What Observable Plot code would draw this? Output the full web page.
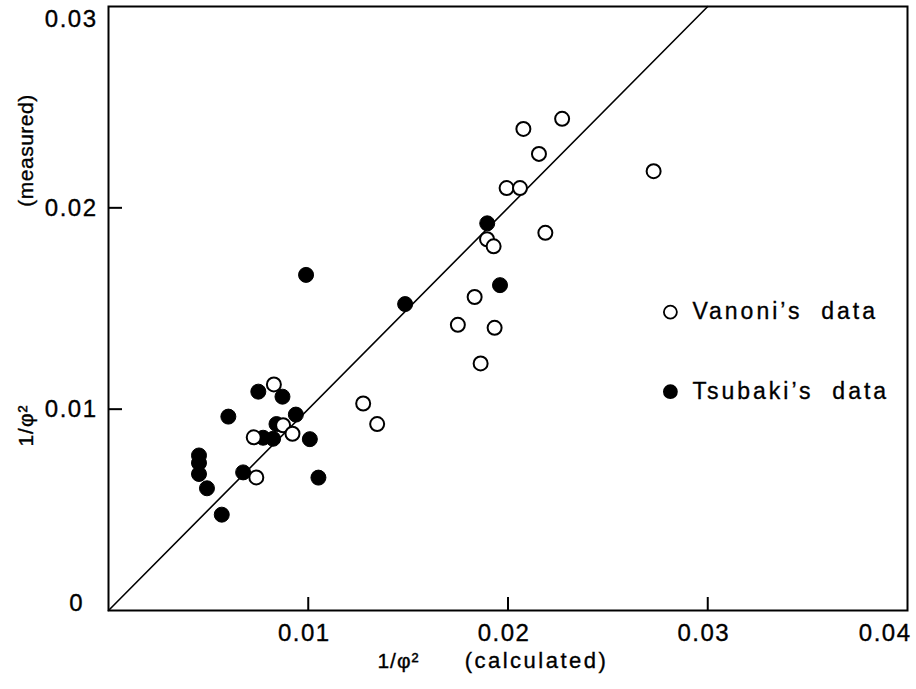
<!DOCTYPE html>
<html>
<head>
<meta charset="utf-8">
<script src="https://cdn.jsdelivr.net/npm/d3@7"></script>
<script src="https://cdn.jsdelivr.net/npm/@observablehq/plot@0.6"></script>
<style>
  html, body { margin: 0; padding: 0; background: #fff; }
  #chart svg { display: block; font-family: "Liberation Sans", Arial, sans-serif; }
  #chart svg text { white-space: pre; }
</style>
</head>
<body>
<div id="chart"></div>
<script>
// Vanoni's data (open circles): [calculated, measured]
const vanoniX = [0.00828, 0.00874, 0.00921, 0.00727, 0.00740, 0.01275, 0.01345, 0.02077, 0.02271, 0.02155,
                 0.02729, 0.01993, 0.02060, 0.01895, 0.01928, 0.02187, 0.01833, 0.01749, 0.01933, 0.01863];
const vanoniY = [0.01123, 0.00920, 0.00878, 0.00860, 0.00661, 0.01028, 0.00926, 0.02392, 0.02442, 0.02268,
                 0.02182, 0.02098, 0.02098, 0.01844, 0.01809, 0.01876, 0.01557, 0.01419, 0.01404, 0.01227];
// Tsubaki's data (filled circles)
const tsubakiX = [0.00750, 0.00871, 0.00600, 0.00938, 0.00841, 0.00774, 0.00824, 0.01008, 0.00453, 0.00453,
                  0.00453, 0.00493, 0.00674, 0.01051, 0.00567, 0.00989, 0.01485, 0.01896, 0.01960];
const tsubakiY = [0.01087, 0.01062, 0.00963, 0.00973, 0.00926, 0.00858, 0.00853, 0.00851, 0.00770, 0.00733,
                  0.00678, 0.00607, 0.00686, 0.00660, 0.00476, 0.01667, 0.01522, 0.01923, 0.01616];
// Line of perfect agreement
const lineX = [0, 0.03];
const lineY = [0, 0.03];
// Axis ticks
const xTickLabels = [0.01, 0.02, 0.03];
const xLastLabel = [0.04];
const xTickMarks = [0.01, 0.02, 0.03];
const yTickLabels = [0.01, 0.02];
const yTopLabel = [0.03];
const yZeroLabel = [0];
const yTickMarks = [0.01, 0.02];
// Legend
const legendNames = ["Vanoni\u2019s  data", "Tsubaki\u2019s  data"];
const legendX = [0.02813, 0.02813];
const legendY = [0.01482, 0.01087];
// Axis titles
const yTitleParts = ["(measured)", "1/\u03c6\u00b2"];
const xTitleParts = ["1/\u03c6\u00b2", "(calculated)"];

const vanoni = vanoniX.map((x, i) => ({x, y: vanoniY[i]}));
const tsubaki = tsubakiX.map((x, i) => ({x, y: tsubakiY[i]}));
const fitLine = lineX.map((x, i) => ({x, y: lineY[i]}));
const legend = legendNames.map((name, i) => ({name, x: legendX[i], y: legendY[i], filled: i === 1}));

const W = 916, H = 689, mL = 108, mR = 9, mT = 6, mB = 79;
const plotW = W - mL - mR, plotH = H - mT - mB;
const fmt = d3.format(".2f");
const tickFont = 24;

const chart = Plot.plot({
  width: W,
  height: H,
  marginLeft: mL,
  marginRight: mR,
  marginTop: mT,
  marginBottom: mB,
  style: {fontFamily: "Liberation Sans, Arial, sans-serif", fontSize: "24px", color: "#000", background: "#fff"},
  x: {domain: [0, 0.04]},
  y: {domain: [0, 0.03]},
  marks: [
    Plot.axisX(xTickLabels, {tickSize: 0, tickPadding: 13, dx: -4, fontSize: tickFont, label: null, tickFormat: fmt}),
    Plot.text(xLastLabel, {x: d => d, frameAnchor: "bottom", lineAnchor: "top", dy: 13, dx: 4, textAnchor: "end",
      text: d => fmt(d), fontSize: tickFont, fill: "#000"}),
    Plot.axisY(yTickLabels, {tickSize: 0, tickPadding: 11, fontSize: tickFont, label: null, tickFormat: fmt}),
    Plot.text(yTopLabel, {y: d => d, frameAnchor: "left", dx: -11, dy: 13, textAnchor: "end",
      text: d => fmt(d), fontSize: tickFont, fill: "#000"}),
    Plot.text(yZeroLabel, {y: d => d, frameAnchor: "left", dx: -26, dy: -7, textAnchor: "end",
      text: d => "0", fontSize: tickFont, fill: "#000"}),
    Plot.tickX(xTickMarks, {x: d => d, insetTop: plotH - 13, stroke: "#000", strokeWidth: 2}),
    Plot.tickY(yTickMarks, {y: d => d, insetRight: plotW - 14, stroke: "#000", strokeWidth: 2}),
    Plot.frame({stroke: "#000", strokeWidth: 2}),
    Plot.line(fitLine, {x: "x", y: "y", stroke: "#000", strokeWidth: 1.6}),
    Plot.dot(tsubaki, {x: "x", y: "y", r: 7.5, fill: "#000", stroke: "#000", strokeWidth: 1}),
    Plot.dot(vanoni, {x: "x", y: "y", r: 7, fill: "#fff", stroke: "#000", strokeWidth: 2}),
    Plot.dot(legend, {x: "x", y: "y", r: 6.5, fill: d => d.filled ? "#000" : "#fff", stroke: "#000", strokeWidth: 1.8}),
    Plot.text(legend, {x: "x", y: "y", text: "name", dx: 22, textAnchor: "start", fontSize: 23, fill: "#000"}),
    // axis titles
    Plot.text([yTitleParts[0]], {frameAnchor: "top-left", dx: -90, dy: 144, rotate: -90, textAnchor: "middle",
      text: d => d, fontSize: 21, fill: "#000"}),
    Plot.text([yTitleParts[1]], {frameAnchor: "top-left", dx: -90, dy: 419, rotate: -90, textAnchor: "middle",
      text: d => d, fontSize: 21, fill: "#000"}),
    Plot.text([xTitleParts[0]], {frameAnchor: "bottom-left", dx: 290, dy: 57, textAnchor: "middle",
      text: d => d, fontSize: 21, fill: "#000"}),
    Plot.text([xTitleParts[1]], {frameAnchor: "bottom-left", dx: 428, dy: 57, textAnchor: "middle",
      text: d => d, fontSize: 22, fill: "#000"})
  ]
});

// letter spacing and slightly heavier lettering, like the hand-lettered original
const spacing = new Map([
  ["0.01", 1.5], ["0.02", 1.5], ["0.03", 1.5], ["0.04", 1.5], ["0", 0],
  [legendNames[0], 3], [legendNames[1], 3],
  ["(calculated)", 2.5], ["(measured)", 0.5], [xTitleParts[0], 1]
]);
d3.select(chart).selectAll("text").each(function() {
  const t = this.textContent;
  const sel = d3.select(this);
  if (spacing.has(t)) sel.style("letter-spacing", spacing.get(t) + "px");
  sel.style("stroke", "#000").style("stroke-width", "0.35px");
});
document.getElementById("chart").appendChild(chart);
</script>
</body>
</html>
